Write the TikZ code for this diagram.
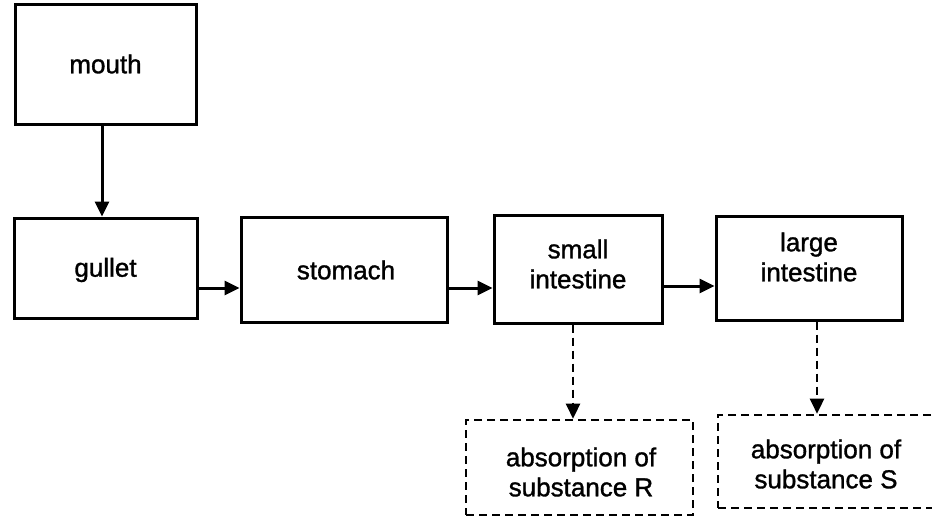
\documentclass[tikz,border=0pt]{standalone}
\usepackage{fontspec}
\setmainfont{Liberation Sans}[FakeBold=1.2]
\usetikzlibrary{arrows.meta}
\begin{document}
\begin{tikzpicture}[x=1pt,y=-1pt,
  box/.style={draw=black,line width=3pt,rectangle,inner sep=0pt},
  dbox/.style={draw=black,line width=2.6pt,dash pattern=on 8pt off 5pt,rectangle,inner sep=0pt},
  txt/.style={align=center,font=\fontsize{26}{30}\selectfont,inner sep=0pt},
  arr/.style={line width=3pt,-{Triangle[length=15pt,width=14pt]}},
  darr/.style={line width=2.6pt,dash pattern=on 8pt off 5pt,-{Triangle[length=15pt,width=14pt]}}]
\clip (0,0) rectangle (932,516);
\fill[white] (0,0) rectangle (932,516);
% boxes
\node[box,minimum width=181pt,minimum height=120pt] (mouth) at (105.5,65) {};
\node[txt] (tmouth) at (105.5,64) {mouth};
\node[box,minimum width=183pt,minimum height=100pt] (gullet) at (105.5,268) {};
\node[txt] (tgullet) at (105.5,270) {gullet};
\node[box,minimum width=206pt,minimum height=105pt] (stomach) at (344,269.5) {};
\node[txt] (tstomach) at (346,270) {stomach};
\node[box,minimum width=168pt,minimum height=108pt] (si) at (578,269) {};
\node[txt] (tsi) at (578,264) {small\\intestine};
\node[box,minimum width=186pt,minimum height=104pt] (li) at (809,268) {};
\node[txt] (tli) at (809,257) {large\\intestine};
\node[dbox,minimum width=227pt,minimum height=95pt] (R) at (579.5,467.5) {};
\node[txt] (tR) at (581,472) {absorption of\\substance R};
\node[dbox,minimum width=216pt,minimum height=93pt] (S) at (826,461.5) {};
\node[txt] (tS) at (826,464) {absorption of\\substance S};
% connectors
\draw[arr] ([xshift=-3.5pt]mouth.south) -- ([xshift=-3.5pt]mouth.south |- gullet.north);
\draw[arr] ([yshift=-20pt]gullet.east) -- ([yshift=-20pt]gullet.east -| stomach.west);
\draw[arr] ([yshift=-18.5pt]stomach.east) -- ([yshift=-18.5pt]stomach.east -| si.west);
\draw[arr] ([yshift=-17pt]si.east) -- ([yshift=-17pt]si.east -| li.west);
\draw[darr] ([xshift=-5pt]si.south) -- ([xshift=-5pt]si.south |- R.north);
\draw[darr] ([xshift=8pt]li.south) -- ([xshift=8pt]li.south |- S.north);
\end{tikzpicture}
\end{document}
